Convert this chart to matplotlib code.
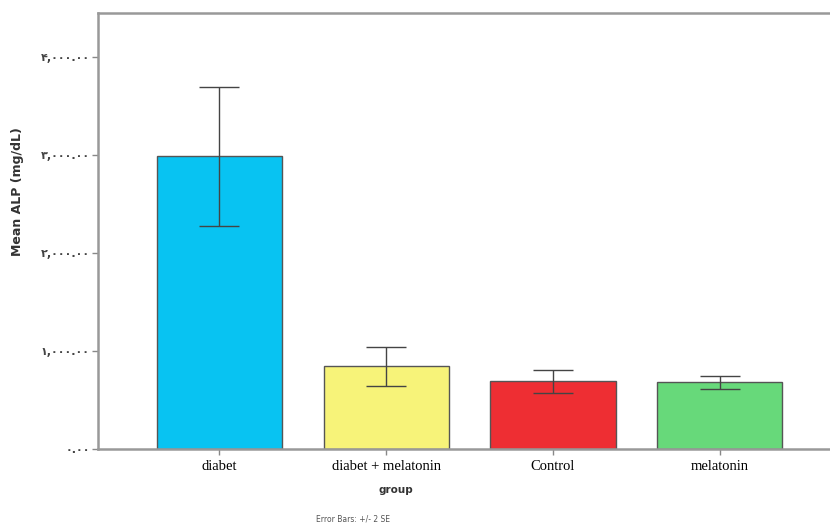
import matplotlib
matplotlib.use("Agg")
import matplotlib.pyplot as plt
import numpy as np

# group means of ALP and the +/- 2 SE half widths
groups = ["diabet", "diabet + melatonin", "Control", "melatonin"]
means = [2990, 845, 690, 679]
err2se = [709, 200, 116, 70]
colors = ["#08C3F2", "#F7F379", "#EE2E33", "#67D97A"]

yticks = [0, 1000, 2000, 3000, 4000]
ytick_labels = ["۰.۰۰", "۱,۰۰۰.۰۰", "۲,۰۰۰.۰۰", "۳,۰۰۰.۰۰", "۴,۰۰۰.۰۰"]

fig = plt.figure(figsize=(8.3, 5.27), dpi=100)
ax = fig.add_axes([98/830, 1-449/527, 1-98/830, (449-13)/527])

x = np.arange(len(groups))
ax.bar(x, means, width=0.75, color=colors, edgecolor="#555555", linewidth=1.0, zorder=2)
ax.errorbar(x, means, yerr=err2se, fmt="none", ecolor="#444444",
            elinewidth=1.0, capsize=14.5, capthick=1.0, zorder=3)

ax.set_xlim(-0.727, 3.66)
ax.set_ylim(0, 4450)

ax.set_yticks(yticks)
ax.set_yticklabels(ytick_labels, fontsize=8, color="#444444", family="DejaVu Sans",
                   fontweight="bold")
ax.set_xticks(x)
ax.set_xticklabels(groups, fontsize=10.5, family="Liberation Serif")

ax.tick_params(axis="y", direction="out", length=4, width=1, color="#888888", pad=2)
ax.tick_params(axis="x", direction="out", length=4, width=1, color="#888888", pad=4)

for side in ["left", "bottom", "top"]:
    ax.spines[side].set_color("#999999")
    ax.spines[side].set_linewidth(1.8)
ax.spines["right"].set_visible(False)

fig.text(18/830, 1-192/527, "Mean ALP (mg/dL)", rotation=90, ha="center", va="center",
         fontsize=9, fontweight="bold", color="#333333")
fig.text(396/830, 1-490/527, "group", ha="center", va="center",
         fontsize=7.5, fontweight="bold", color="#333333")
fig.text(353/830, 1-519/527, "Error Bars: +/- 2 SE", ha="center", va="center",
         fontsize=5.5, color="#555555")

fig.savefig("out.png", dpi=100)
